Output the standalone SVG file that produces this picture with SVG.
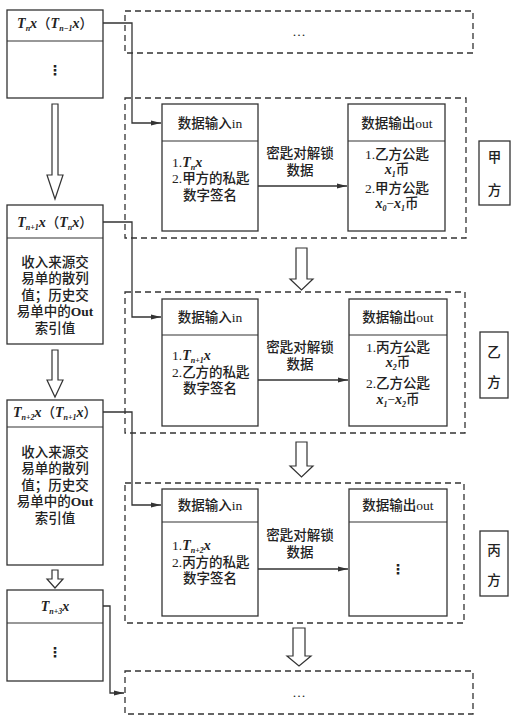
<svg xmlns="http://www.w3.org/2000/svg" width="515" height="723" viewBox="0 0 515 723">
<defs>
<style>
.box{fill:#fff;stroke:#333;stroke-width:1.3}
.div{stroke:#333;stroke-width:1.2}
.dash{fill:none;stroke:#333;stroke-width:1.3;stroke-dasharray:6,4}
.conn{fill:none;stroke:#333;stroke-width:1.3}
.hollow{fill:#fff;stroke:#333;stroke-width:1.2}
text{font-family:"Liberation Serif","Noto Sans CJK SC",serif;font-size:13.5px;font-weight:500;fill:#222;text-anchor:middle}
.l{text-anchor:start}
.v{font-style:italic;font-weight:bold;font-size:14px}
.sub{font-size:8px;font-style:italic;font-weight:bold}
.dots{font-family:"DejaVu Sans",sans-serif;font-size:14px;font-weight:bold}
</style>
<marker id="ah" markerWidth="10" markerHeight="6" refX="10" refY="3" orient="auto" markerUnits="userSpaceOnUse">
<path d="M0,0.5 L10,3 L0,5.5 Z" fill="#333"/>
</marker>
</defs>

<g id="connectors">
<path class="conn" d="M103,23 H132 V123 H161" marker-end="url(#ah)"/>
<path class="conn" d="M103,222 H132 V317 H161" marker-end="url(#ah)"/>
<path class="conn" d="M103,412 H132 V505 H161" marker-end="url(#ah)"/>
<path class="conn" d="M103,606 H110 V693 H124" marker-end="url(#ah)"/>
<path class="conn" d="M258,186 H347" marker-end="url(#ah)"/>
<path class="conn" d="M258,380 H348" marker-end="url(#ah)"/>
<path class="conn" d="M258,569 H348" marker-end="url(#ah)"/>
<path class="hollow" d="M52,104 H58 V175 H63 L55,199 L47,175 H52 Z"/>
<path class="hollow" d="M52,350 H58 V380 H63 L55,397 L47,380 H52 Z"/>
<path class="hollow" d="M52,570 H58 V579 H63 L55,588 L47,579 H52 Z"/>
<path class="hollow" d="M296,248 H307 V279 H313 L301.5,290 L290,279 H296 Z"/>
<path class="hollow" d="M296,442 H307 V466 H313 L301.5,477 L290,466 H296 Z"/>
<path class="hollow" d="M293,628 H305 V656 H311 L299,666 L287,656 H293 Z"/>
</g>

<g id="tx-n">
<rect class="box" x="7" y="10" width="96" height="88"/>
<line class="div" x1="7" y1="41" x2="103" y2="41"/>
<text x="55" y="28"><tspan class="v">T</tspan><tspan class="sub" dy="3">n</tspan><tspan class="v" dy="-3">x</tspan>（<tspan class="v">T</tspan><tspan class="sub" dy="3">n−1</tspan><tspan class="v" dy="-3">x</tspan>）</text>
<text class="dots" x="55" y="75">⋮</text>
</g>

<g id="tx-n1">
<rect class="box" x="7" y="205" width="96" height="139"/>
<line class="div" x1="7" y1="238" x2="103" y2="238"/>
<text x="55" y="227"><tspan class="v">T</tspan><tspan class="sub" dy="3">n+1</tspan><tspan class="v" dy="-3">x</tspan>（<tspan class="v">T</tspan><tspan class="sub" dy="3">n</tspan><tspan class="v" dy="-3">x</tspan>）</text>
<text x="55" y="267">收入来源交</text>
<text x="55" y="283">易单的散列</text>
<text x="55" y="300">值；历史交</text>
<text x="55" y="316">易单中的<tspan font-weight="bold">Out</tspan></text>
<text x="55" y="333">索引值</text>
</g>

<g id="tx-n2">
<rect class="box" x="7" y="400" width="96" height="165"/>
<line class="div" x1="7" y1="427" x2="103" y2="427"/>
<text x="55" y="417"><tspan class="v">T</tspan><tspan class="sub" dy="3">n+2</tspan><tspan class="v" dy="-3">x</tspan>（<tspan class="v">T</tspan><tspan class="sub" dy="3">n+1</tspan><tspan class="v" dy="-3">x</tspan>）</text>
<text x="55" y="457">收入来源交</text>
<text x="55" y="473">易单的散列</text>
<text x="55" y="490">值；历史交</text>
<text x="55" y="506">易单中的<tspan font-weight="bold">Out</tspan></text>
<text x="55" y="523">索引值</text>
</g>

<g id="tx-n3">
<rect class="box" x="7" y="590" width="96" height="91"/>
<line class="div" x1="7" y1="623" x2="103" y2="623"/>
<text x="55" y="611"><tspan class="v">T</tspan><tspan class="sub" dy="3">n+3</tspan><tspan class="v" dy="-3">x</tspan></text>
<text class="dots" x="55" y="657">⋮</text>
</g>

<g id="block-top">
<rect class="dash" x="125" y="11" width="348" height="42"/>
<text x="299" y="36">…</text>
</g>

<g id="block-jia">
<rect class="dash" x="125" y="98" width="341" height="140"/>
<g id="jia-in">
<rect class="box" x="162" y="104" width="96" height="127"/>
<line class="div" x1="162" y1="141" x2="258" y2="141"/>
<text x="210" y="128">数据输入in</text>
<text class="l" x="172" y="167">1.<tspan class="v">T</tspan><tspan class="sub" dy="3">n</tspan><tspan class="v" dy="-3">x</tspan></text>
<text class="l" x="172" y="183">2.甲方的私匙</text>
<text x="210" y="200">数字签名</text>
</g>
<text x="300" y="158">密匙对解锁</text>
<text x="300" y="175">数据</text>
<g id="jia-out">
<rect class="box" x="348" y="104" width="97" height="127"/>
<line class="div" x1="348" y1="141" x2="445" y2="141"/>
<text x="397" y="128">数据输出out</text>
<text x="397" y="159">1.乙方公匙</text>
<text x="397" y="174"><tspan class="v">x</tspan><tspan class="sub" dy="3">1</tspan><tspan dy="-3">币</tspan></text>
<text x="397" y="193">2.甲方公匙</text>
<text x="397" y="208"><tspan class="v">x</tspan><tspan class="sub" dy="3">0</tspan><tspan dy="-3">−</tspan><tspan class="v">x</tspan><tspan class="sub" dy="3">1</tspan><tspan dy="-3">币</tspan></text>
</g>
</g>
<g id="label-jia">
<rect class="box" x="479" y="141" width="31" height="64"/>
<text x="494.5" y="162">甲</text>
<text x="494.5" y="195">方</text>
</g>

<g id="block-yi">
<rect class="dash" x="125" y="292" width="340" height="141"/>
<g id="yi-in">
<rect class="box" x="162" y="299" width="96" height="127"/>
<line class="div" x1="162" y1="335" x2="258" y2="335"/>
<text x="210" y="322">数据输入in</text>
<text class="l" x="172" y="360">1.<tspan class="v">T</tspan><tspan class="sub" dy="3">n+1</tspan><tspan class="v" dy="-3">x</tspan></text>
<text class="l" x="172" y="377">2.乙方的私匙</text>
<text x="210" y="393">数字签名</text>
</g>
<text x="300" y="352">密匙对解锁</text>
<text x="300" y="369">数据</text>
<g id="yi-out">
<rect class="box" x="349" y="299" width="98" height="127"/>
<line class="div" x1="349" y1="335" x2="447" y2="335"/>
<text x="398" y="322">数据输出out</text>
<text x="398" y="352">1.丙方公匙</text>
<text x="398" y="367"><tspan class="v">x</tspan><tspan class="sub" dy="3">2</tspan><tspan dy="-3">币</tspan></text>
<text x="398" y="388">2.乙方公匙</text>
<text x="398" y="404"><tspan class="v">x</tspan><tspan class="sub" dy="3">1</tspan><tspan dy="-3">−</tspan><tspan class="v">x</tspan><tspan class="sub" dy="3">2</tspan><tspan dy="-3">币</tspan></text>
</g>
</g>
<g id="label-yi">
<rect class="box" x="480" y="332" width="28" height="66"/>
<text x="494" y="357">乙</text>
<text x="494" y="387">方</text>
</g>

<g id="block-bing">
<rect class="dash" x="125" y="483" width="339" height="140"/>
<g id="bing-in">
<rect class="box" x="162" y="489" width="96" height="127"/>
<line class="div" x1="162" y1="522" x2="258" y2="522"/>
<text x="210" y="510">数据输入in</text>
<text class="l" x="172" y="550">1.<tspan class="v">T</tspan><tspan class="sub" dy="3">n+2</tspan><tspan class="v" dy="-3">x</tspan></text>
<text class="l" x="172" y="567">2.丙方的私匙</text>
<text x="210" y="583">数字签名</text>
</g>
<text x="300" y="540">密匙对解锁</text>
<text x="300" y="557">数据</text>
<g id="bing-out">
<rect class="box" x="349" y="489" width="98" height="127"/>
<line class="div" x1="349" y1="522" x2="447" y2="522"/>
<text x="398" y="510">数据输出out</text>
<text class="dots" x="398" y="574">⋮</text>
</g>
</g>
<g id="label-bing">
<rect class="box" x="480" y="531" width="28" height="65"/>
<text x="494" y="555">丙</text>
<text x="494" y="585">方</text>
</g>

<g id="block-bottom">
<rect class="dash" x="125" y="671" width="348" height="43"/>
<text x="299" y="697">…</text>
</g>
</svg>
